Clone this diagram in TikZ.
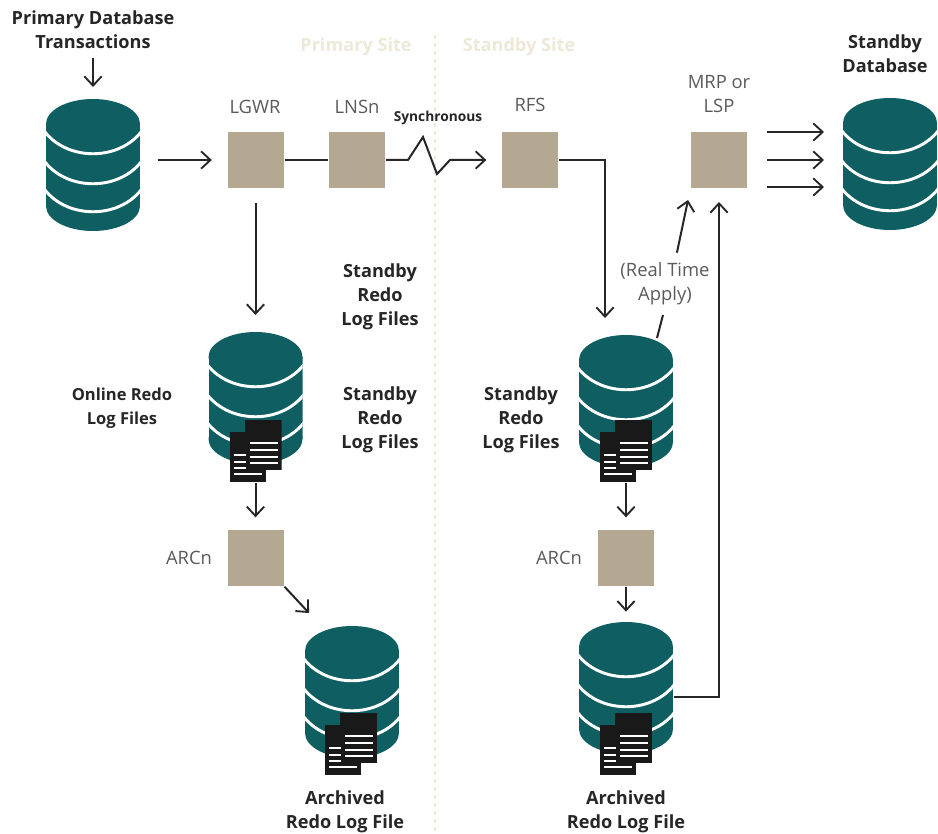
\documentclass[tikz,border=0pt]{standalone}
\usepackage{fontspec}
\setmainfont{Open Sans}
\usetikzlibrary{arrows.meta}
\definecolor{dbteal}{HTML}{0F5F62}
\definecolor{boxtan}{HTML}{B5A892}
\definecolor{sitepale}{HTML}{EDE8D8}
\definecolor{inkdark}{HTML}{262626}
\definecolor{labelgray}{HTML}{5A5A5A}
\tikzset{
  dbstack/.style={inner sep=0pt,minimum width=70.5pt,minimum height=99pt,path picture={
    \begin{scope}[shift={(path picture bounding box.center)}]
    \fill[dbteal] (0,-41) ellipse [x radius=47*.75pt,y radius=25*.75pt];
    \fill[dbteal] (-47,-41) rectangle (47,41);
    \fill[dbteal] (0,41) ellipse [x radius=47*.75pt,y radius=25*.75pt];
    \foreach \dy in {-33,-3,25}
      \draw[white,line width=2.2pt] (-48,\dy) .. controls (-25,\dy+29) and (25,\dy+29) .. (48,\dy);
    \end{scope}}},
  logdocs/.style={inner sep=0pt,minimum width=39pt,minimum height=46.5pt,path picture={
    \begin{scope}[shift={(path picture bounding box.center)}]
    \fill[black!90] (-26,-19) rectangle (10,31);
    \fill[black!90] (-11,-31) rectangle (26,19);
    \foreach \dy in {-8,-1,6,12}
      \draw[white,line width=1.3pt] (-6,\dy) -- (22,\dy);
    \foreach \dy in {4,11,17}
      \draw[white,line width=1.3pt] (-22,\dy) -- (-10,\dy);
    \draw[white,line width=1.3pt] (-22,23) -- (6,23);
    \end{scope}}},
  procbox/.style={fill=boxtan,inner sep=0pt,minimum width=42pt,minimum height=41.5pt},
  proclabel/.style={text=labelgray,font=\fontsize{13.8}{18}\selectfont,align=center,inner sep=0pt},
  boldlabel/.style={text=inkdark,font=\fontsize{13.6}{18}\selectfont\bfseries,align=center,inner sep=0pt},
  sitelabel/.style={text=sitepale,font=\fontsize{13.6}{18}\selectfont\bfseries,inner sep=0pt},
}
\begin{document}
\begin{tikzpicture}[x=.75pt,y=-.75pt,>={Straight Barb[length=7pt,width=13pt,line width=1.4pt]},line width=1.5pt,draw=inkdark]
\useasboundingbox (0,0) rectangle (938,834);

\coordinate (sitetop) at (435,35);
\coordinate (sitebottom) at (435,834);
\draw[sitepale,dash pattern=on 3pt off 3pt,line width=1.2pt] (sitetop) -- (sitebottom);

\node[sitelabel](primarysite) at (356,47) {Primary Site};
\node[sitelabel](standbysite) at (519,47) {Standby Site};

\node[dbstack](primary) at (93,165) {};
\node[dbstack](online) at (255.5,398) {};
\node[dbstack](archivedL) at (352,692) {};
\node[dbstack](redo) at (626,401) {};
\node[dbstack](archivedR) at (626,688) {};
\node[dbstack](standby) at (890,164) {};

\node[logdocs](onlinedocs) at (255.5,451) {};
\node[logdocs](archdocsL) at (351,744) {};
\node[logdocs](redodocs) at (626,451) {};
\node[logdocs](archdocsR) at (626,744) {};

\node[procbox](lgwr) at (255.5,160) {};
\node[procbox](lnsn) at (357,160) {};
\node[procbox](rfs) at (530,160) {};
\node[procbox](mrp) at (719,160) {};
\node[procbox](arcL) at (255.5,558) {};
\node[procbox](arcR) at (626,558) {};

\node[boldlabel](transactions) at (93,30) {Primary Database\\Transactions};
\node[boldlabel](standbyname) at (885,54) {Standby\\Database};
\node[boldlabel](midredoA) at (380,297) {Standby\\Redo\\Log Files};
\node[boldlabel](midredoB) at (380,420) {Standby\\Redo\\Log Files};
\node[boldlabel,font=\fontsize{12.4}{18}\selectfont\bfseries](onlinename) at (122,408) {Online Redo\\Log Files};
\node[boldlabel](redoname) at (521,420) {Standby\\Redo\\Log Files};
\node[boldlabel](archnameL) at (345,812) {Archived\\Redo Log File};
\node[boldlabel](archnameR) at (626,812) {Archived\\Redo Log File};

\node[proclabel](lgwrname) at (255,107) {LGWR};
\node[proclabel](lnsnname) at (357,107) {LNSn};
\node[proclabel](rfsname) at (530,105) {RFS};
\node[proclabel](mrpname) at (719,94) {MRP or\\LSP};
\node[proclabel](arcnameL) at (189,558) {ARCn};
\node[proclabel](arcnameR) at (559,558) {ARCn};
\node[proclabel](realtime) at (665,284) {(Real Time\\Apply)};
\node[boldlabel,font=\fontsize{10.3}{12}\selectfont\bfseries](sync) at (438,118) {Synchronous};

\coordinate (zigA) at (408,160);
\coordinate (zigB) at (423,137);
\coordinate (zigC) at (437,174);
\coordinate (zigD) at (450,160);
\coordinate (rfsdrop) at (605,318);
\coordinate (applystart) at (657,338);
\coordinate (applybreak) at (663,315);
\coordinate (applyend) at (688,200);
\coordinate (arcoutL) at (309,613);

\draw[->] (transactions) ++(0,28) -- (93,87);
\draw[->,shorten <=12.5pt,shorten >=11pt] ([yshift=5*.75pt]primary.east) -- (lgwr.west);
\draw (lgwr) -- (lnsn);
\draw[->,shorten >=11pt] (lnsn.east) -- (zigA) -- (zigB) -- (zigC) -- (zigD) -- (rfs.west);
\draw[->] (rfs.east) -| (rfsdrop);
\draw[->,shorten <=11pt,shorten >=12pt] (lgwr.south) -- (online.north);
\draw[->,shorten >=9pt] (onlinedocs.south) -- (arcL.north);
\draw[->] (arcL.south east) -- (arcoutL);
\draw[->,shorten >=9pt] (redodocs.south) -- (arcR.north);
\draw[->,shorten >=7pt] (arcR.south) -- (archivedR.north);
\draw (applystart) -- (applybreak);
\draw[->,shorten <=7pt] ([xshift=10*.75pt]realtime.north) -- (applyend);
\draw[->,shorten >=10pt] ([yshift=-9*.75pt]archivedR.east) -| (mrp.south);
\foreach \dy in {-28,0,27}
  \draw[->] ([shift={(19,\dy)}]mrp.east) -- ([shift={(-18,\dy-4)}]standby.west);
\end{tikzpicture}
\end{document}
